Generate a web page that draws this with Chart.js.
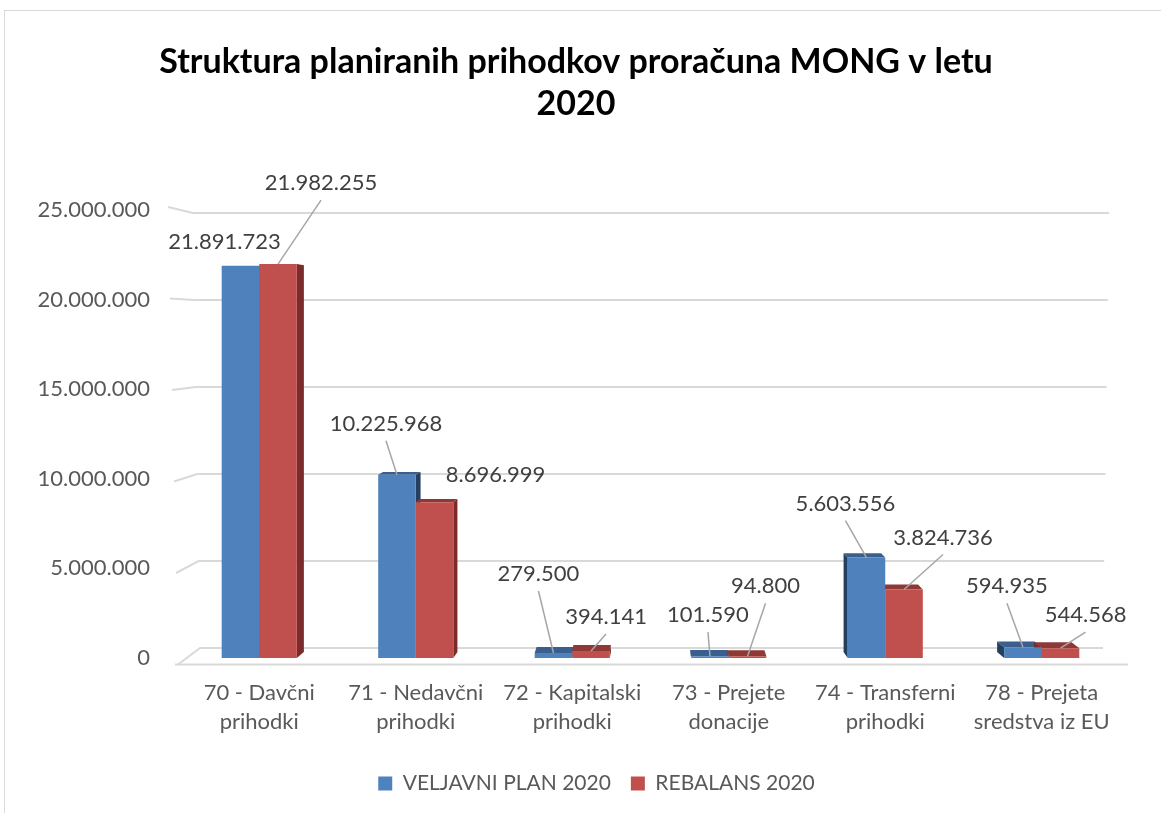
<!DOCTYPE html>
<html>
<head>
<meta charset="utf-8">
<script src="https://cdn.jsdelivr.net/npm/chart.js@4.4.1/dist/chart.umd.min.js"></script>
<style>
  html, body { margin: 0; padding: 0; background: #fff; }
  #wrap { width: 1161px; height: 813px; }
</style>
</head>
<body>
<div id="wrap"><canvas id="budgetChart" width="1161" height="813"></canvas></div>
<script>
const categories = [
    ['70 - Davčni', 'prihodki'],
    ['71 - Nedavčni', 'prihodki'],
    ['72 - Kapitalski', 'prihodki'],
    ['73 - Prejete', 'donacije'],
    ['74 - Transferni', 'prihodki'],
    ['78 - Prejeta', 'sredstva iz EU']
];
const veljavniPlan = [21891723, 10225968, 279500, 101590, 5603556, 594935];
const rebalans = [21982255, 8696999, 394141, 94800, 3824736, 544568];
const seriesNames = ['VELJAVNI PLAN 2020', 'REBALANS 2020'];
const yTicks = [0, 5000000, 10000000, 15000000, 20000000, 25000000];
const titleLines = ['Struktura planiranih prihodkov proračuna MONG v letu', '2020'];

const FONT = 'Lato, "Open Sans", sans-serif';

function fmt(v) {
    return String(Math.round(v)).replace(/\B(?=(\d{3})+(?!\d))/g, '.');
}

// frame + title
const framePlugin = {
    id: 'frame',
    beforeDraw(chart) {
        const ctx = chart.ctx;
        ctx.save();
        ctx.strokeStyle = '#d9d9d9';
        ctx.lineWidth = 1;
        ctx.strokeRect(4.5, 10.5, 1200, 900);
        ctx.fillStyle = '#000';
        ctx.font = 'bold 34px ' + FONT;
        ctx.textAlign = 'center';
        ctx.textBaseline = 'middle';
        ctx.fillText(titleLines[0], 576, 62);
        ctx.fillText(titleLines[1], 576, 104);
        ctx.restore();
    }
};

// back wall gridlines, floor and the fake 3d faces of the bars
const wallPlugin = {
    id: 'wall',
    beforeDatasetsDraw(chart) {
        const ctx = chart.ctx;
        const y = chart.scales.y;
        const base = y.getPixelForValue(0);
        const floorBack = base - 10;
        const eye = 329;
        ctx.save();
        ctx.strokeStyle = '#d9d9d9';
        ctx.lineWidth = 2;
        yTicks.forEach(t => {
            const p = y.getPixelForValue(t);
            const yb = floorBack - (base - p) * 0.971;
            const yf = yb + 0.0517 * (yb - eye);
            const k = (floorBack - yb) / 434;
            const xb0 = 200 - 7 * k;
            const xf = 178 - 10 * k;
            const xb1 = 1103 + 6 * k;
            ctx.beginPath();
            ctx.moveTo(xf, yf);
            ctx.lineTo(xb0, yb);
            ctx.lineTo(xb1, yb);
            ctx.stroke();
            if (t === 0) {
                ctx.beginPath();
                ctx.moveTo(175, yf);
                ctx.lineTo(1128, yf);
                ctx.stroke();
            }
        });

        const faces = [
            { side: '#243f60', top: '#3a5f8f' },
            { side: '#7b2c2a', top: '#8f3937' }
        ];
        const center = (chart.chartArea.left + chart.chartArea.right) / 2;
        chart.data.datasets.forEach((ds, di) => {
            const meta = chart.getDatasetMeta(di);
            meta.data.forEach(bar => {
                const half = bar.width / 2;
                const left = bar.x - half, right = bar.x + half;
                const top = bar.y, bot = bar.base;
                const dx = (center - bar.x) * 0.019;
                const dyT = 0.36 * 0.0517 * (top - eye);
                const dyB = 0.36 * 0.0517 * (bot - eye);
                const edge = dx >= 0 ? right : left;
                ctx.fillStyle = faces[di].side;
                ctx.beginPath();
                ctx.moveTo(edge, top);
                ctx.lineTo(edge + dx, top - dyT);
                ctx.lineTo(edge + dx, bot - dyB);
                ctx.lineTo(edge, bot);
                ctx.closePath();
                ctx.fill();
                if (dyT > 0) {
                    ctx.fillStyle = faces[di].top;
                    ctx.beginPath();
                    ctx.moveTo(left, top);
                    ctx.lineTo(right, top);
                    ctx.lineTo(right + dx, top - dyT);
                    ctx.lineTo(left + dx, top - dyT);
                    ctx.closePath();
                    ctx.fill();
                }
            });
        });
        ctx.restore();
    }
};

// value labels with leader lines
const labelPlugin = {
    id: 'valueLabels',
    afterDatasetsDraw(chart, args, opts) {
        const ctx = chart.ctx;
        ctx.save();
        ctx.font = '22px ' + FONT;
        ctx.textAlign = 'center';
        ctx.textBaseline = 'middle';
        chart.data.datasets.forEach((ds, di) => {
            const meta = chart.getDatasetMeta(di);
            meta.data.forEach((bar, i) => {
                const [ox, oy, line] = opts.offsets[di][i];
                const lx = bar.x + ox, ly = bar.y + oy;
                if (line) {
                    ctx.strokeStyle = '#a6a6a6';
                    ctx.lineWidth = 1.5;
                    ctx.beginPath();
                    ctx.moveTo(lx, ly + 17);
                    ctx.lineTo(bar.x, bar.y);
                    ctx.stroke();
                }
                ctx.fillStyle = '#404040';
                ctx.fillText(fmt(ds.data[i]), lx, ly);
            });
        });
        ctx.restore();
    }
};

const config = {
    type: 'bar',
    data: {
        labels: categories,
        datasets: [{
            label: seriesNames[0],
            data: veljavniPlan,
            backgroundColor: '#4f81bd',
            categoryPercentage: 0.48,
            barPercentage: 1
        }, {
            label: seriesNames[1],
            data: rebalans,
            backgroundColor: '#c0504d',
            categoryPercentage: 0.48,
            barPercentage: 1
        }]
    },
    options: {
        responsive: false,
        animation: false,
        layout: { padding: { left: 32, right: 0, top: 210, bottom: 9 } },
        plugins: {
            title: { display: false },
            tooltip: { enabled: false },
            legend: {
                position: 'bottom',
                labels: {
                    boxWidth: 14,
                    boxHeight: 14,
                    padding: 20,
                    color: '#595959',
                    font: { family: FONT, size: 21 }
                }
            },
            valueLabels: {
                offsets: [
                    [[-16, -24, false], [-11, -51, true], [-15, -79, true], [-2, -41, true], [-21, -54, true], [-16, -61, true]],
                    [[43, -81, true], [61, -27, false], [15, -34, true], [18, -70, true], [39, -52, true], [25, -33, true]]
                ]
            }
        },
        scales: {
            x: {
                grid: { display: false, drawTicks: false },
                border: { display: false },
                ticks: {
                    color: '#595959',
                    padding: 20,
                    maxRotation: 0,
                    font: { family: FONT, size: 22, lineHeight: 1.32 }
                },
                afterFit(s) { s.height = 95; }
            },
            y: {
                min: 0,
                max: 25000000,
                grid: { display: false, drawTicks: false },
                border: { display: false },
                ticks: {
                    stepSize: 5000000,
                    color: '#595959',
                    padding: 31,
                    font: { family: FONT, size: 22 },
                    callback: v => fmt(v)
                },
                afterFit(s) { s.width = 149; }
            },
            yRight: {
                type: 'linear',
                position: 'right',
                display: true,
                grid: { display: false, drawTicks: false },
                border: { display: false },
                ticks: { display: false },
                afterFit(s) { s.width = 41; }
            }
        }
    },
    plugins: [framePlugin, wallPlugin, labelPlugin]
};

const ctx = document.getElementById('budgetChart').getContext('2d');
const chart = new Chart(ctx, config);
</script>
</body>
</html>
